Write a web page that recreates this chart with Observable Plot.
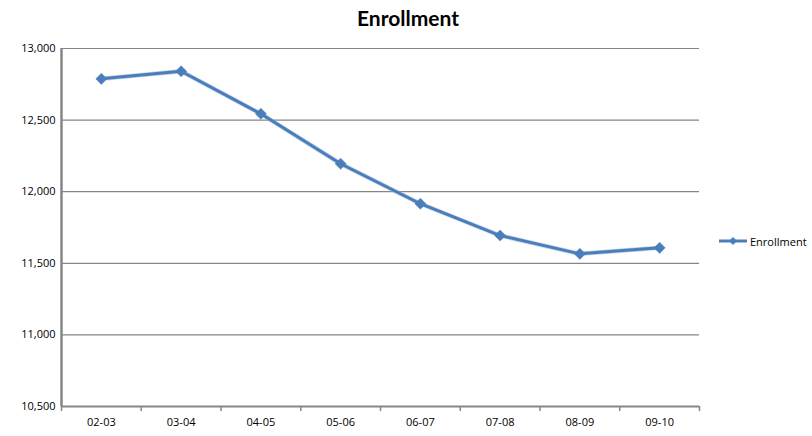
<!DOCTYPE html>
<html>
<head>
<meta charset="utf-8">
<script src="https://cdn.jsdelivr.net/npm/d3@7"></script>
<script src="https://cdn.jsdelivr.net/npm/@observablehq/plot@0.6"></script>
<style>
  html, body { margin: 0; padding: 0; background: #fff; }
  #wrap { position: relative; width: 812px; height: 436px; font-family: "Open Sans", "DejaVu Sans", sans-serif; }
  #title { height: 36px; line-height: 36px; text-align: center; font-family: Lato, "Open Sans", sans-serif; font-weight: bold; font-size: 21px; color: #000; padding-left: 4px; }
  #legend { position: absolute; left: 718px; top: 232px; display: flex; align-items: center; font-size: 11px; color: #000; }
  #legend svg { margin-right: 2px; }
</style>
</head>
<body>
<div id="wrap">
  <div id="title">Enrollment</div>
  <div id="chart"></div>
  <div id="legend"></div>
</div>
<script>
// School years and enrollment counts
const years = ["02-03", "03-04", "04-05", "05-06", "06-07", "07-08", "08-09", "09-10"];
const enrollment = [12788, 12841, 12544, 12195, 11916, 11694, 11566, 11608];
const yTicks = [10500, 11000, 11500, 12000, 12500, 13000];
const seriesName = "Enrollment";
const blue = "#4a7ebb";
const grey = "#868686";

const data = years.map((year, i) => ({i, year, value: enrollment[i]}));
const boundaries = d3.range(years.length + 1).map(i => i - 0.5);

const chart = Plot.plot({
  width: 812,
  height: 400,
  marginTop: 12,
  marginBottom: 30,
  marginLeft: 61,
  marginRight: 113,
  style: {fontFamily: "'Open Sans', 'DejaVu Sans', sans-serif", fontSize: "11px", color: "#000"},
  x: {domain: [-0.5, years.length - 0.5]},
  y: {domain: [10500, 13000]},
  marks: [
    Plot.gridY(yTicks, {stroke: grey, strokeOpacity: 1, strokeWidth: 1.2}),
    Plot.axisY({ticks: yTicks, tickSize: 0, tickPadding: 6, tickFormat: d3.format(","), label: null, fill: "#000"}),
    Plot.axisX({ticks: boundaries, tickSize: 5, tickFormat: () => "", stroke: grey, strokeWidth: 1.5, label: null}),
    Plot.axisX({ticks: d3.range(years.length), tickSize: 0, tickPadding: 12, tickFormat: i => years[i], label: null, fill: "#000"}),
    Plot.ruleY([10500], {stroke: grey, strokeWidth: 2}),
    Plot.ruleX([-0.5], {stroke: grey, strokeWidth: 2.5}),
    Plot.line(data, {x: "i", y: "value", stroke: "#9bb5d8", strokeWidth: 4.5, strokeOpacity: 0.6}),
    Plot.line(data, {x: "i", y: "value", stroke: blue, strokeWidth: 3}),
    Plot.dot(data, {x: "i", y: "value", symbol: d3.symbolDiamond2, r: 5, fill: blue, stroke: blue, strokeWidth: 0.5})
  ]
});
document.getElementById("chart").appendChild(chart);

// Legend: line sample with a diamond marker and the series name
const legend = document.getElementById("legend");
const sw = d3.create("svg").attr("width", 30).attr("height", 18);
sw.append("line").attr("x1", 1).attr("x2", 29).attr("y1", 9).attr("y2", 9)
  .attr("stroke", blue).attr("stroke-width", 3);
sw.append("path").attr("d", d3.symbol(d3.symbolDiamond2, 42)()).attr("transform", "translate(15,9)")
  .attr("fill", blue);
legend.appendChild(sw.node());
const label = document.createElement("span");
label.textContent = seriesName;
legend.appendChild(label);
</script>
</body>
</html>
